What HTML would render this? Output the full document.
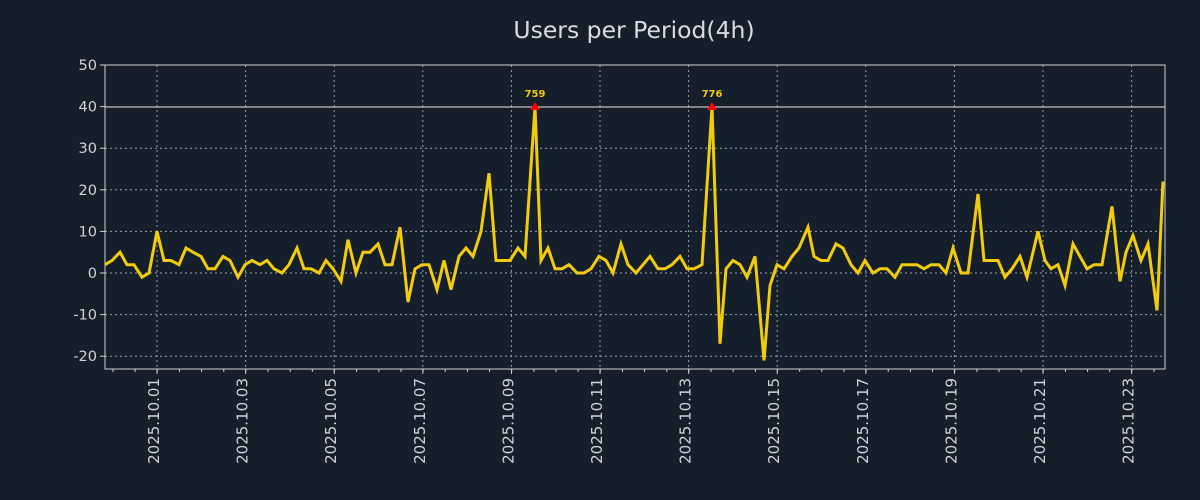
<!DOCTYPE html>
<html><head><meta charset="utf-8"><style>
html,body{margin:0;padding:0;background:#151f2c;}
svg{display:block;font-family:"DejaVu Sans","Liberation Sans",sans-serif;}
</style></head><body>
<svg id="s" width="1200" height="500" xmlns="http://www.w3.org/2000/svg">
<rect width="1200" height="500" fill="#151f2c"/>
<text x="634" y="38" font-size="23.5" fill="#d8dde3" text-anchor="middle">Users per Period(4h)</text>
<g id="grid"></g>
<line x1="105" y1="107" x2="1165" y2="107" stroke="#e8e8e8" stroke-width="1"/>
<rect x="105" y="65" width="1060" height="304" fill="none" stroke="#d0d0d0" stroke-width="1"/>
<g id="ticks"></g>
<polyline id="ln" fill="none" stroke="#f2cc0c" stroke-width="3" stroke-linejoin="miter"/>
<polygon points="530,110 535,102 540,110" fill="#ff0000"/>
<polygon points="707,110 712,102 717,110" fill="#ff0000"/>
<text x="535" y="97" font-size="10" font-weight="bold" fill="#f2cc0c" text-anchor="middle">759</text>
<text x="712" y="97" font-size="10" font-weight="bold" fill="#f2cc0c" text-anchor="middle">776</text>
</svg>
<script>
var ns="http://www.w3.org/2000/svg";
function el(t,a,p,txt){var e=document.createElementNS(ns,t);for(var k in a)e.setAttribute(k,a[k]);if(txt)e.textContent=txt;document.getElementById(p).appendChild(e);return e;}
function Y(v){return 273-v*4.16;}
[50,40,30,20,10,0,-10,-20].forEach(function(v){var y=Y(v);
 if(v!=40&&v!=50)el("line",{x1:105,x2:1165,y1:y,y2:y,stroke:"#9aa0a8","stroke-width":1,"stroke-dasharray":"2,3"},"grid");
 el("line",{x1:100,x2:105,y1:y,y2:y,stroke:"#d0d0d0"},"ticks");
 el("text",{x:97,y:y+5,"font-size":14.5,fill:"#d0d4d8","text-anchor":"end"},"ticks",String(v));});
var days=["01","03","05","07","09","11","13","15","17","19","21","23"];
days.forEach(function(d,i){var x=157+i*88.6;
 el("line",{x1:x,x2:x,y1:65,y2:369,stroke:"#9aa0a8","stroke-width":1,"stroke-dasharray":"2,3"},"grid");
 el("line",{x1:x,x2:x,y1:369,y2:374,stroke:"#d0d0d0"},"ticks");
 el("text",{x:0,y:0,"font-size":15,fill:"#d0d4d8","text-anchor":"end",transform:"translate("+(x+2)+",378) rotate(-90)"},"ticks","2025.10."+d);});
for(var x=113;x<1165;x+=22.15){el("line",{x1:x,x2:x,y1:369,y2:372,stroke:"#d0d0d0"},"ticks");}
var d=[[105,2],[112,3],[120,5],[127,2],[134,2],[142,-1],[149,0],[157,10],[164,3],[171,3],[179,2],[186,6],[193,5],[201,4],[208,1],[215,1],[223,4],[230,3],[238,-1],[245,2],[252,3],[260,2],[267,3],[274,1],[282,0],[289,2],[297,6],[304,1],[311,1],[319,0],[326,3],[333,1],[341,-2],[348,8],[356,0],[363,5],[370,5],[378,7],[385,2],[392,2],[400,11],[408,-7],[415,1],[422,2],[429,2],[437,-4],[444,3],[451,-4],[459,4],[466,6],[473,4],[481,10],[489,24],[496,3],[503,3],[510,3],[518,6],[525,4],[535,40],[541,3],[548,6],[555,1],[562,1],[569,2],[577,0],[584,0],[591,1],[599,4],[606,3],[613,0],[621,7],[628,2],[636,0],[643,2],[650,4],[658,1],[665,1],[672,2],[680,4],[687,1],[694,1],[702,2],[712,40],[720,-17],[726,1],[733,3],[740,2],[747,-1],[755,4],[764,-21],[770,-3],[777,2],[784,1],[792,4],[799,6],[808,11],[814,4],[821,3],[828,3],[836,7],[843,6],[851,2],[858,0],[865,3],[873,0],[880,1],[887,1],[895,-1],[902,2],[909,2],[917,2],[924,1],[931,2],[939,2],[946,0],[953,6],[961,0],[968,0],[978,19],[984,3],[991,3],[998,3],[1005,-1],[1012,1],[1020,4],[1027,-1],[1038,10],[1045,3],[1051,1],[1058,2],[1065,-3],[1073,7],[1080,4],[1087,1],[1094,2],[1102,2],[1112,16],[1120,-2],[1126,5],[1133,9],[1141,3],[1148,7],[1157,-9],[1163,22]];
document.getElementById("ln").setAttribute("points",d.map(function(p){return p[0]+","+Y(p[1]).toFixed(1);}).join(" "));
</script>
</body></html>
